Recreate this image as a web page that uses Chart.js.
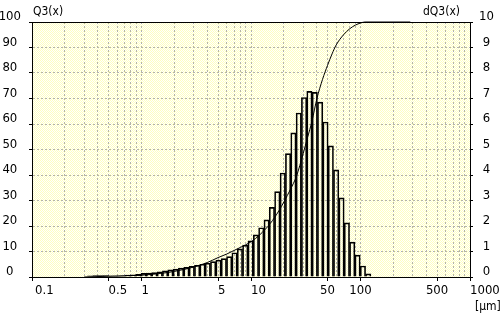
<!DOCTYPE html>
<html>
<head>
<meta charset="utf-8">
<script src="https://cdn.jsdelivr.net/npm/chart.js@4.4.1/dist/chart.umd.min.js"></script>
<style>
  html, body { margin: 0; padding: 0; background: #fff; }
  #psd { display: block; }
</style>
</head>
<body>
<canvas id="psd" width="500" height="318"></canvas>
<script>
// histogram classes (mid size in µm) and their dQ3 share in %
const classSizes = [0.34, 0.38, 0.425, 0.476, 0.533, 0.596, 0.667, 0.746, 0.835, 0.935,
    1.046, 1.17, 1.31, 1.47, 1.64, 1.84, 2.05, 2.30, 2.57, 2.88,
    3.22, 3.61, 4.03, 4.51, 5.05, 5.65, 6.32, 7.07, 7.92, 8.86,
    9.92, 11.1, 12.4, 13.9, 15.5, 17.4, 19.5, 21.8, 24.4, 27.3,
    30.5, 34.2, 38.2, 42.8, 47.9, 53.6, 59.9, 67.1, 75.1, 84.0,
    94.0, 105.2, 117.7];
const dQ3 = [0.05, 0.06, 0.06, 0.06, 0.04, 0.03, 0.04, 0.08, 0.09, 0.10,
    0.14, 0.15, 0.17, 0.20, 0.24, 0.28, 0.31, 0.35, 0.38, 0.42,
    0.46, 0.50, 0.54, 0.60, 0.66, 0.72, 0.80, 0.95, 1.10, 1.25,
    1.42, 1.65, 1.93, 2.24, 2.73, 3.35, 4.08, 4.84, 5.65, 6.43,
    7.04, 7.28, 7.24, 6.86, 6.08, 5.14, 4.20, 3.10, 2.12, 1.37,
    0.86, 0.43, 0.12];

// cumulative curve Q3(x) in %
const curveSizes = [0.3, 0.5, 0.7, 1, 1.5, 2, 3, 4, 5, 6, 7, 8, 10, 12, 15, 18, 20, 23, 26, 30,
    33, 36, 40, 45, 50, 55, 60, 70, 80, 90, 100, 110, 285];
const curveQ3 = [0, 0.3, 0.5, 0.7, 1.4, 2.2, 3.9, 5.7, 7.6, 9.0, 10.4, 11.6, 13.8, 16.5, 21, 26, 29.5, 34.5, 39.5, 48.5,
    55, 61, 70, 77.5, 83, 87.5, 91, 95, 97.4, 98.8, 99.6, 100, 100];

// axis ticks
const xTickLabels = [0.1, 0.5, 1, 5, 10, 50, 100, 500, 1000];
const xCentredLabels = [50, 100, 500];
const q3Ticks = [0, 10, 20, 30, 40, 50, 60, 70, 80, 90, 100];
const dq3Ticks = [0, 1, 2, 3, 4, 5, 6, 7, 8, 9, 10];

const FONT = "'Liberation Sans Narrow', 'DejaVu Sans Condensed', 'Liberation Sans', sans-serif";
const GRID = '#b4b4a8';

// log grid: 1..9 in every decade
const xGrid = [];
[0.1, 1, 10, 100].forEach(dec => {
    for (let m = 1; m <= 9; m++) xGrid.push(Math.round(dec * m * 1000) / 1000);
});
xGrid.push(1000);

const isLabelled = v => xTickLabels.some(l => Math.abs(l - v) < l * 1e-6);

// dithered pale yellow plot area
const plotBackground = {
    id: 'plotBackground',
    beforeDraw(chart) {
        const { ctx, chartArea: a } = chart;
        const tile = document.createElement('canvas');
        tile.width = 2;
        tile.height = 2;
        const t = tile.getContext('2d');
        t.fillStyle = '#ffffff';
        t.fillRect(0, 0, 2, 2);
        t.fillStyle = '#ffffc0';
        t.fillRect(0, 0, 1, 1);
        t.fillRect(1, 1, 1, 1);
        ctx.save();
        ctx.fillStyle = ctx.createPattern(tile, 'repeat');
        ctx.fillRect(a.left, a.top, a.right - a.left, a.bottom - a.top);
        ctx.restore();
    }
};

// top frame, x labels and axis captions
const frameAndTexts = {
    id: 'frameAndTexts',
    afterDraw(chart) {
        const { ctx, chartArea: a, scales } = chart;
        ctx.save();
        ctx.strokeStyle = '#000';
        ctx.lineWidth = 1;
        ctx.beginPath();
        ctx.moveTo(a.left, a.top + 0.5);
        ctx.lineTo(a.right, a.top + 0.5);
        ctx.stroke();

        ctx.fillStyle = '#000';
        ctx.textBaseline = 'middle';
        ctx.font = `13px ${FONT}`;
        xTickLabels.forEach((v, i) => {
            const px = scales.x.getPixelForValue(v);
            ctx.textAlign = xCentredLabels.includes(v) ? 'center' : 'left';
            ctx.fillText(String(v), px + (i === 0 ? 3 : 0), a.bottom + 14);
        });

        ctx.font = `12px ${FONT}`;
        ctx.textAlign = 'left';
        ctx.fillText('Q3(x)', a.left + 1, a.top - 10);
        ctx.textAlign = 'right';
        ctx.fillText('dQ3(x)', a.right - 10, a.top - 10);
        ctx.textAlign = 'left';
        ctx.fillText('[µm]', a.right + 5, a.bottom + 30);
        ctx.restore();
    }
};

new Chart(document.getElementById('psd'), {
    type: 'bar',
    data: {
        datasets: [
            {
                type: 'line',
                label: 'Q3(x)',
                data: curveSizes.map((x, i) => ({ x, y: curveQ3[i] })),
                yAxisID: 'y',
                borderColor: '#000',
                borderWidth: 1,
                pointRadius: 0,
                cubicInterpolationMode: 'monotone',
                fill: false,
                clip: 3
            },
            {
                type: 'bar',
                label: 'dQ3(x)',
                data: classSizes.map((x, i) => ({ x, y: dQ3[i] })),
                yAxisID: 'y1',
                backgroundColor: 'rgba(0,0,0,0)',
                borderColor: '#000',
                borderWidth: 1,
                barThickness: 'flex',
                barPercentage: 1,
                categoryPercentage: 1
            }
        ]
    },
    options: {
        responsive: false,
        animation: false,
        events: [],
        layout: { padding: { top: 22, bottom: 0, left: 0, right: 0 } },
        plugins: { legend: { display: false }, tooltip: { enabled: false } },
        scales: {
            x: {
                type: 'logarithmic',
                position: 'bottom',
                min: 0.1,
                max: 1000,
                offset: false,
                afterBuildTicks: s => { s.ticks = xGrid.map(v => ({ value: v })); },
                afterFit: s => { s.height = 41; },
                ticks: { display: false, autoSkip: false },
                grid: {
                    offset: false,
                    color: GRID,
                    tickLength: 4,
                    tickWidth: 1,
                    tickColor: c => (c.tick && isLabelled(c.tick.value)) ? '#000' : 'rgba(0,0,0,0)'
                },
                border: { color: '#000', dash: [2, 2] }
            },
            y: {
                position: 'left',
                min: 0,
                max: 100,
                afterBuildTicks: s => { s.ticks = q3Ticks.map(v => ({ value: v })); },
                afterFit: s => { s.width = 32; },
                ticks: { font: { family: FONT, size: 13 }, color: '#000', crossAlign: 'center', padding: 8, labelOffset: -5 },
                grid: { color: GRID, tickLength: 3, tickColor: '#000', tickWidth: 1 },
                border: { color: '#000', dash: [2, 2] }
            },
            y1: {
                position: 'right',
                min: 0,
                max: 10,
                afterBuildTicks: s => { s.ticks = dq3Ticks.map(v => ({ value: v })); },
                afterFit: s => { s.width = 30; },
                ticks: { font: { family: FONT, size: 13 }, color: '#000', crossAlign: 'center', padding: 6, labelOffset: -5 },
                grid: { drawOnChartArea: false, tickLength: 3, tickColor: '#000', tickWidth: 1 },
                border: { color: '#000' }
            }
        }
    },
    plugins: [plotBackground, frameAndTexts]
});
</script>
</body>
</html>
